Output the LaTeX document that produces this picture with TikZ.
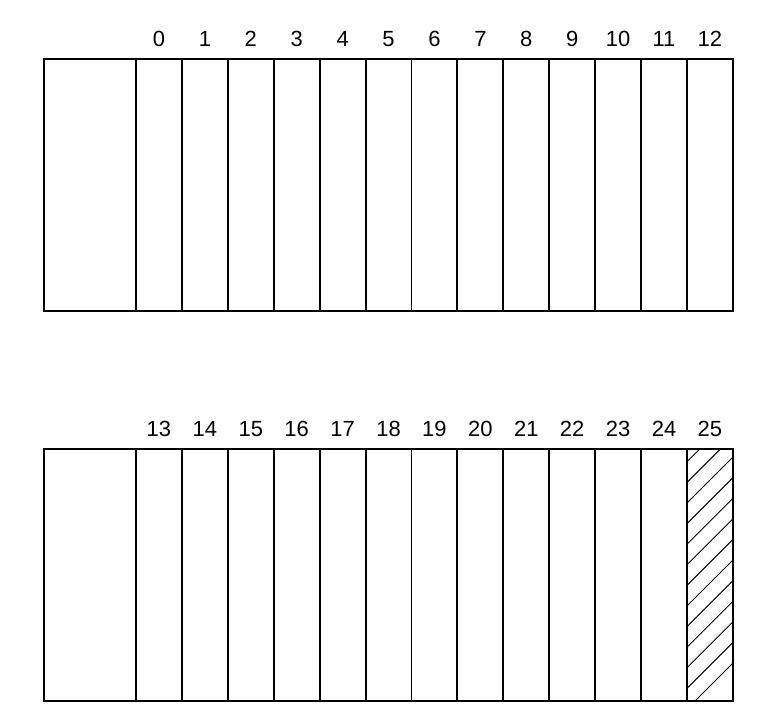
\documentclass[tikz,border=0pt]{standalone}
\usepackage{fontspec}
\setmainfont{Liberation Sans}
\usetikzlibrary{positioning}
\tikzset{
  cell/.style={draw,line width=1.1pt,inner sep=0pt,outer sep=0pt,
    minimum width=0.9185cm,minimum height=5.04cm},
  wide/.style={cell,minimum width=1.84cm,anchor=north west},
  num/.style={font=\fontsize{12.5}{14}\selectfont,inner sep=0pt,anchor=base},
  hatch/.style={line width=0.55pt}
}
\begin{document}
\begin{tikzpicture}[x=0.02cm,y=-0.02cm]
  \useasboundingbox (0,0) rectangle (774,715);
  % upper register
  \node[wide] (ca) at (44,59) {};
  \foreach \i [remember=\i as \prev (initially a)] in {0,...,12}{
    \node[cell,right=0pt of c\prev] (c\i) {};
    \path (c\i.north) ++(0,-12) node[num] (n\i) {\i};
  }
  % lower register
  \node[wide] (cb) at (44,449) {};
  \foreach \i [remember=\i as \prev (initially b)] in {13,...,25}{
    \node[cell,right=0pt of c\prev] (c\i) {};
    \path (c\i.north) ++(0,-12) node[num] (n\i) {\i};
  }
  % last cell hatched
  \begin{scope}
    \clip (c25.south west) rectangle (c25.north east);
    \foreach \k in {0,...,15}
      \draw[hatch] ({1396-20.6*\k-721},721) -- ({1396-20.6*\k-429},429);
  \end{scope}
  \node[cell] at (c25) {};
\end{tikzpicture}
\end{document}
